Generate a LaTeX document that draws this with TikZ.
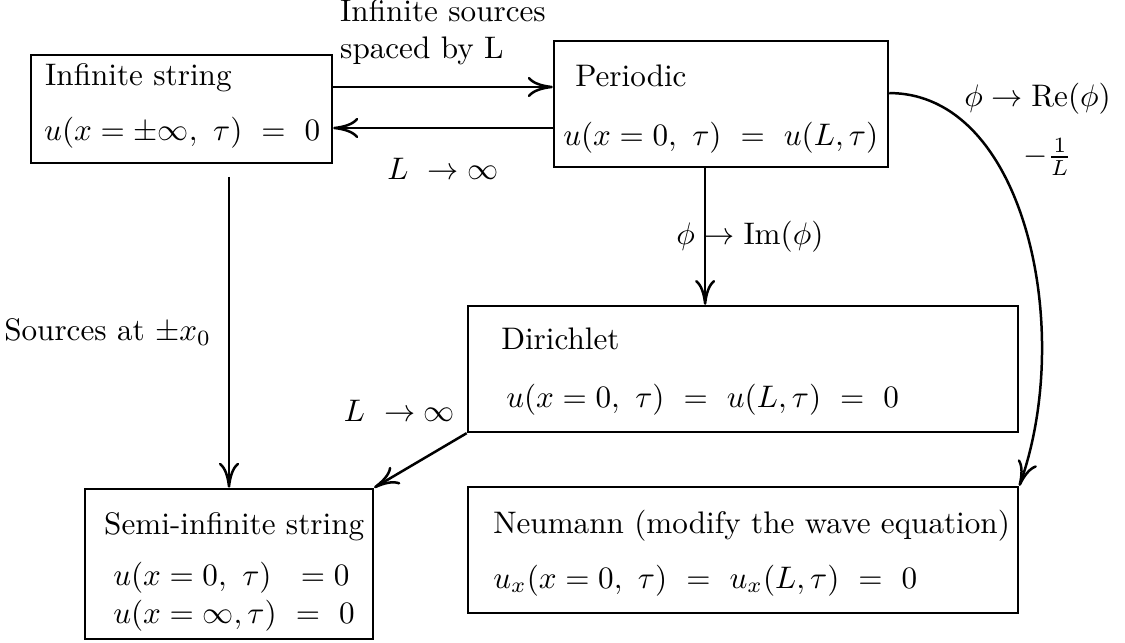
\documentclass[tikz,border=0pt]{standalone}
\usepackage{amsmath}
\usepackage{amssymb}
\usetikzlibrary{arrows.meta}

\begin{document}
\begin{tikzpicture}[
    x=0.321pt, y={(0pt,-0.321pt)},
    >={To[length=8pt,width=6.5pt]},
    thick,
    case/.style={
        draw,
        rectangle,
        inner sep=0pt
    },
    txt/.style={anchor=base west, inner sep=0pt}
]
\useasboundingbox (0,0) rectangle (1125,642);

% boxes
\node[case, minimum width=96.6pt, minimum height=34.7pt] (inf) at (181.5,109) {};
\node[case, minimum width=107.2pt, minimum height=40.4pt] (per) at (721,104) {};
\node[case, minimum width=176.6pt, minimum height=40.4pt] (dir) at (743,369) {};
\node[case, minimum width=176.6pt, minimum height=40.4pt] (neu) at (743,550) {};
\node[case, minimum width=92.4pt, minimum height=48.2pt] (semi) at (229,564) {};

% box texts
\node[txt] (infT) at (44,86) {Infinite string};
\node[txt] (infE) at (43,141) {$u(x=\pm\infty,\ \tau)\ =\ 0$};
\node[txt] (perT) at (574,87) {Periodic};
\node[txt] (perE) at (562,146) {$u(x=0,\ \tau)\ =\ u(L,\tau)$};
\node[txt] (dirT) at (500,349) {Dirichlet};
\node[txt] (dirE) at (505,407) {$u(x=0,\ \tau)\ =\ u(L,\tau)\ =\ 0$};
\node[txt] (neuT) at (492,533) {Neumann (modify the wave equation)};
\node[txt] (neuE) at (492,588) {$u_x(x=0,\ \tau)\ =\ u_x(L,\tau)\ =\ 0$};
\node[txt] (semiT) at (103,534) {Semi-infinite string};
\node[txt] (semiE) at (112,585) {$u(x=0,\ \tau)\ \ =0$};
\node[txt] (semiF) at (112,623) {$u(x=\infty,\tau)\ =\ 0$};

% transitions
\coordinate[yshift=-4pt] (srcA) at (inf.south -| semi.north);
\coordinate[xshift=-5.1pt] (imA) at (per.south);

\draw[->] (inf.east |- 0,87) -- node[above=3.3pt, align=left] {Infinite sources\\spaced by L} (per.west |- 0,87);
\draw[->] (per.west |- 0,128) -- node[below=6pt] {$L\ \to\infty$} (inf.east |- 0,128);
\draw[->] (srcA) -- node[left=2pt] {Sources at $\pm x_0$} (semi.north);
\draw[->] (imA) -- node[xshift=14.4pt] {$\phi \to \mathrm{Im}(\phi)$} (imA |- dir.north);
\draw[->] (dir.south west) -- node[pos=0, anchor=south east] {$L\ \to\infty$} (semi.north east);
\draw[->] ([yshift=3.5pt]per.east) .. controls (1025,93) and (1075,330) .. (neu.north east);

\node[txt] (reL) at (963,107) {$\phi \to \mathrm{Re}(\phi)$};
\node[anchor=west, inner sep=0pt] (reF) at (1022,157) {$-\frac{1}{L}$};

\end{tikzpicture}
\end{document}
